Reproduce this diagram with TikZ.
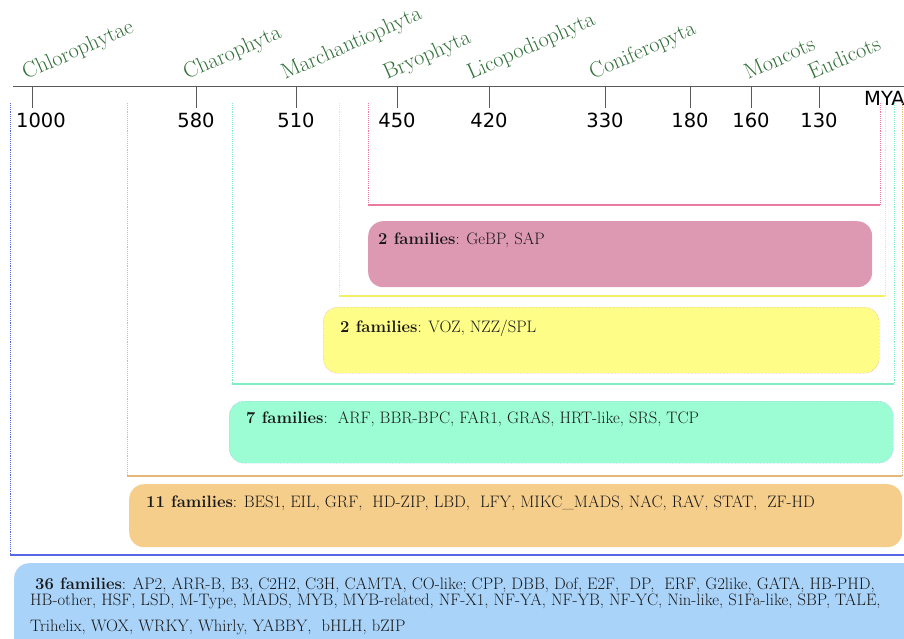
\documentclass[tikz,border=0pt]{standalone}
\usepackage{fontspec}
\newfontfamily\axisfont{DejaVu Sans}
\usetikzlibrary{positioning}

\definecolor{cladegreen}{HTML}{33703A}
\definecolor{fillpink}{HTML}{DE99B2}
\definecolor{fillyellow}{HTML}{FDFD88}
\definecolor{fillmint}{HTML}{9CFDD5}
\definecolor{fillorange}{HTML}{F6CE8C}
\definecolor{fillblue}{HTML}{A9D3F8}
\definecolor{railpink}{HTML}{EC7AA0}
\definecolor{railyellow}{HTML}{F2F066}
\definecolor{railmint}{HTML}{80EEC2}
\definecolor{railorange}{HTML}{E3B878}
\definecolor{railblue}{HTML}{5566E6}

\begin{document}
\begin{tikzpicture}[x=1pt,y=-1pt,
    clade/.style={text=cladegreen, rotate=24, anchor=base west, inner sep=0pt, font=\fontsize{22}{24}\selectfont},
    year/.style={anchor=base, inner sep=0pt, font=\axisfont\fontsize{19.5}{22}\selectfont},
    tick/.style={draw=black!65, line width=0.9pt},
    rail/.style={densely dotted, line width=0.9pt},
    floor/.style={line width=1.4pt},
    famBox/.style={rounded corners=15pt, anchor=north west, inner sep=0pt},
    famText/.style={anchor=base west, align=left, inner sep=0pt, text=black!90, font=\fontsize{16.6}{20}\selectfont}
  ]
  \clip (0,0) rectangle (904,639);

  % time axis
  \coordinate (axisL) at (13,86);
  \coordinate (axisR) at (904,86);
  \draw[tick] (axisL) -- (axisR);
  \foreach \x/\yr in {196/580, 296/510, 397/450, 489/420, 605/330, 690/180, 751/160, 819/130}{
    \draw[tick] (\x,86) -- (\x,108);
    \node[year] (yr\yr) at (\x,128) {\yr};
  }
  \draw[tick] (32,86) -- (32,108);
  \node[year] (yr1000) at (41,128) {1000};
  \node[year, anchor=base west] (mya) at (864,106) {MYA};

  % clades
  \foreach \x/\n in {26/Chlorophytae, 187/Charophyta, 285/Marchantiophyta, 387/Bryophyta, 471/Licopodiophyta, 593/Coniferopyta, 748/Moncots, 812/Eudicots}{
    \node[clade] (\n) at (\x,80) {\n};
  }

  % nested brackets
  \foreach \l/\r/\b/\c in {368/880/205/railpink, 339/885/296/railyellow, 232/894/384/railmint, 127/902/476/railorange, 10/912/555/railblue}{
    \draw[rail, draw=\c] (\l,103) -- (\l,\b);
    \draw[rail, draw=\c] (\r,103) -- (\r,\b);
    \draw[floor, draw=\c] (\l,\b) -- (\r,\b);
  }

  % family boxes
  \node[famBox, fill=fillpink, minimum width=504pt, minimum height=66pt] (pinkbox) at (368,221) {};
  \node[famText] (pinktext) at (378,244) {\textbf{2 families}: GeBP, SAP};

  \node[famBox, fill=fillyellow, draw=railpink, densely dotted, minimum width=556pt, minimum height=66pt] (yellowbox) at (323,307) {};
  \node[famText] (yellowtext) at (340,332) {\textbf{2 families}: VOZ, NZZ/SPL};

  \node[famBox, fill=fillmint, draw=railblue!60, densely dotted, minimum width=664pt, minimum height=62pt] (mintbox) at (229,401) {};
  \node[famText] (minttext) at (246,423) {\textbf{7 families}:\ \ ARF, BBR-BPC, FAR1, GRAS, HRT-like, SRS, TCP};

  \node[famBox, fill=fillorange, minimum width=773pt, minimum height=63pt] (orangebox) at (129,484) {};
  \node[famText] (orangetext) at (146,507) {\textbf{11 families}: BES1, EIL, GRF,\ \ HD-ZIP, LBD,\ \ LFY, MIKC\_MADS, NAC, RAV, STAT,\ \ ZF-HD};

  \node[famBox, fill=fillblue, minimum width=910pt, minimum height=100pt] (bluebox) at (14,563) {};
  \node[famText, anchor=north west] (bluetext) at (30,578) {\ \textbf{36 families}: AP2, ARR-B, B3, C2H2, C3H, CAMTA, CO-like; CPP, DBB, Dof, E2F,\ \ DP,\ \ ERF, G2like, GATA, HB-PHD,\\[-4pt]
    HB-other, HSF, LSD, M-Type, MADS, MYB, MYB-related, NF-X1, NF-YA, NF-YB, NF-YC, Nin-like, S1Fa-like, SBP, TALE,\\[6pt]
    Trihelix, WOX, WRKY, Whirly, YABBY,\ \ bHLH, bZIP};
\end{tikzpicture}
\end{document}
